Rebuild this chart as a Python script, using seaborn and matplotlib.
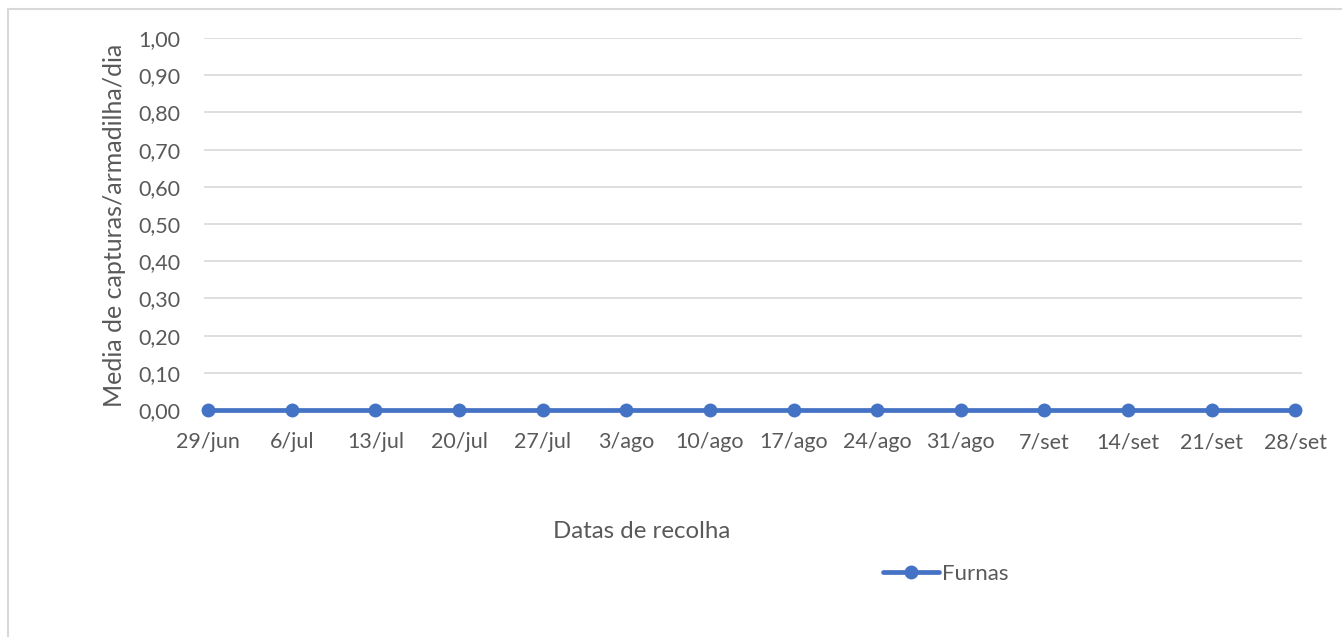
import matplotlib
matplotlib.use("Agg")
import matplotlib.pyplot as plt
import seaborn as sns
import pandas as pd
import numpy as np
from matplotlib.patches import Rectangle

dates = ["29/jun", "6/jul", "13/jul", "20/jul", "27/jul", "3/ago", "10/ago",
         "17/ago", "24/ago", "31/ago", "7/set", "14/set", "21/set", "28/set"]
furnas = [0, 0, 0, 0, 0, 0, 0, 0, 0, 0, 0, 0, 0, 0]
yticks = [0.0, 0.1, 0.2, 0.3, 0.4, 0.5, 0.6, 0.7, 0.8, 0.9, 1.0]

sns.set_theme(style="white")
plt.rcParams['font.family'] = ['Lato', 'DejaVu Sans']

df = pd.DataFrame({"Data": dates, "Furnas": furnas, "idx": np.arange(len(dates))})

W, H = 1342, 637
fig = plt.figure(figsize=(W / 100, H / 100), dpi=100)
ax = fig.add_axes([204 / W, 1 - 410 / H, (1302 - 204) / W, (410 - 38) / H])

sns.lineplot(data=df, x="idx", y="Furnas", ax=ax, color="#4472C4", linewidth=3.4,
             marker="o", markersize=10, markeredgewidth=0, label="Furnas", legend=False,
             clip_on=False, zorder=5)

ax.set_xlim(-0.05, len(dates) - 1 + 0.08)
ax.set_ylim(0, 1.0)
ax.set_yticks(yticks)
ax.set_yticklabels([f"{v:.2f}".replace(".", ",") for v in yticks])
ax.set_xticks(df["idx"])
ax.set_xticklabels(dates)
ax.grid(axis="y", color="#D9D9D9", linewidth=1.2)
for s in ax.spines.values():
    s.set_visible(False)
ax.tick_params(axis="both", length=0, labelsize=15.5, labelcolor="#595959")
ax.tick_params(axis="y", pad=17)
ax.tick_params(axis="x", pad=16)
ax.set_xlabel("")
ax.set_ylabel("")

fig.text(115 / W, 1 - 225 / H, "Media de capturas/armadilha/dia", rotation=90,
         ha="center", va="center", fontsize=18, color="#595959")
fig.text(642 / W, 1 - 531 / H, "Datas de recolha", ha="center", va="center",
         fontsize=17.3, color="#595959")

fig.legend(handles=ax.get_lines()[:1], labels=["Furnas"], loc="center left",
           bbox_to_anchor=(883 / W, 1 - 574 / H), frameon=False, fontsize=16,
           handlelength=2.5, handletextpad=0.15, borderpad=0, borderaxespad=0,
           labelcolor="#595959")

fig.patches.append(Rectangle((8 / W, -0.05), 1.1, 1 - 9 / H + 0.05,
                             transform=fig.transFigure, fill=False, clip_on=False,
                             edgecolor="#D9D9D9", linewidth=1.5))

fig.savefig("out.png", dpi=100, facecolor="white")
